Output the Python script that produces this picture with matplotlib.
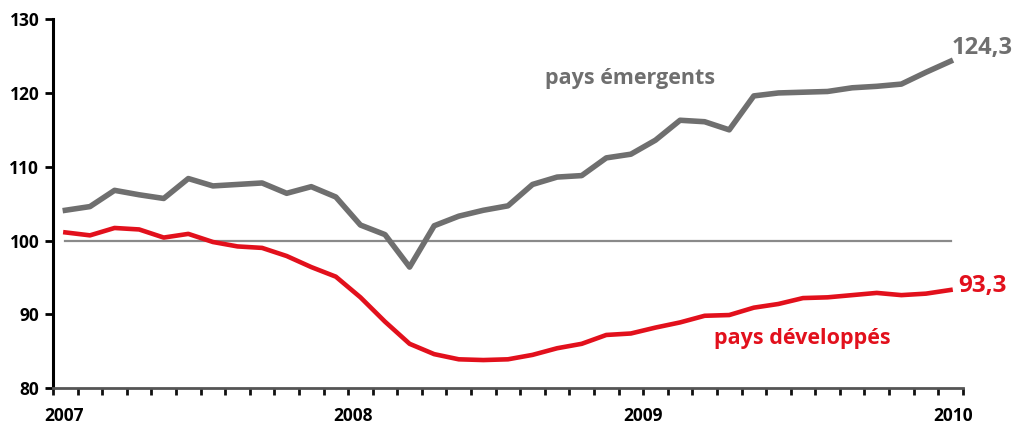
import numpy as np
import matplotlib.pyplot as plt

plt.rcParams['font.family'] = ['Open Sans', 'DejaVu Sans']

# monthly index, Jan 2007 .. Jan 2010 (base 100)
emergents = [104.1, 104.6, 106.8, 106.2, 105.7, 108.4, 107.4, 107.6, 107.8, 106.4,
             107.3, 105.9, 102.1, 100.8, 96.4, 102.0, 103.3, 104.1, 104.7, 107.6,
             108.6, 108.8, 111.2, 111.7, 113.6, 116.3, 116.1, 115.0, 119.6, 120.0,
             120.1, 120.2, 120.7, 120.9, 121.2, 122.8, 124.3]
developpes = [101.1, 100.7, 101.7, 101.5, 100.4, 100.9, 99.8, 99.2, 99.0, 97.9,
              96.4, 95.1, 92.3, 89.0, 86.0, 84.6, 83.9, 83.8, 83.9, 84.5,
              85.4, 86.0, 87.2, 87.4, 88.2, 88.9, 89.8, 89.9, 90.9, 91.4,
              92.2, 92.3, 92.6, 92.9, 92.6, 92.8, 93.3]
years = ['2007', '2008', '2009', '2010']
year_pos = [0.45, 12.2, 24.0, 36.6]
yticks = [80, 90, 100, 110, 120, 130]

gray = '#6f6f6f'
red = '#e2101c'

fig = plt.figure(figsize=(10.21, 4.26), dpi=100)
ax = fig.add_axes([0.052, 0.089, 0.891, 0.866])

x = np.arange(len(emergents)) + 0.5
ax.plot([x[0], x[-1]], [100, 100], color='#8a8a8a', lw=1.6, zorder=1)
ax.plot(x, emergents, color=gray, lw=4, zorder=2)
ax.plot(x, developpes, color=red, lw=3.3, zorder=3)

ax.set_xlim(0, len(emergents))
ax.set_ylim(80, 130)
ax.set_yticks(yticks)
ax.set_yticklabels([str(v) for v in yticks], fontsize=12.5, fontweight='bold')
ax.set_xticks(np.arange(0, len(emergents) + 1))
ax.set_xticklabels([])
ax.tick_params(axis='y', length=6, width=2, direction='out', pad=4)
ax.tick_params(axis='x', length=5, width=2, direction='out', color='#111111')

for y_lab, p in zip(years, year_pos):
    ax.text(p, -0.05, y_lab, transform=ax.get_xaxis_transform(), ha='center', va='top',
            fontsize=12.5, fontweight='bold')

for s in ['top', 'right']:
    ax.spines[s].set_visible(False)
ax.spines['left'].set_linewidth(2.2)
ax.spines['bottom'].set_linewidth(2)
ax.spines['bottom'].set_color('#555555')

ax.text(x[-1] + 0.05, emergents[-1] + 0.2, '124,3', color=gray, fontsize=17,
        fontweight='bold', ha='left', va='bottom', clip_on=False)
ax.text(x[-1] + 0.3, developpes[-1] + 0.6, '93,3', color=red, fontsize=17.5,
        fontweight='bold', ha='left', va='center', clip_on=False)
ax.text(20.0, 122.0, 'pays émergents', color=gray, fontsize=15.5, fontweight='bold',
        ha='left', va='center')
ax.text(26.9, 86.7, 'pays développés', color=red, fontsize=15.5, fontweight='bold',
        ha='left', va='center')

fig.savefig('out.png', dpi=100)
